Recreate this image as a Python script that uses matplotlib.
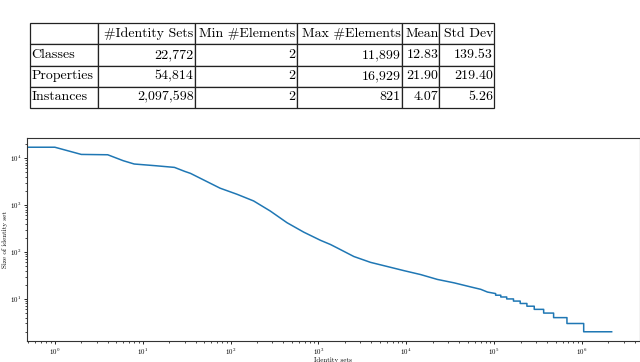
import numpy as np
import matplotlib
matplotlib.use("Agg")
import matplotlib.pyplot as plt

plt.rcParams['font.family'] = ['cmr10', 'DejaVu Serif']
plt.rcParams['mathtext.fontset'] = 'cm'
plt.rcParams['axes.formatter.use_mathtext'] = True

# table data
row_names = ['Classes', 'Properties', 'Instances']
col_names = ['', '#Identity Sets', 'Min #Elements', 'Max #Elements', 'Mean', 'Std Dev']
n_sets = ['22,772', '54,814', '2,097,598']
min_elems = ['2', '2', '2']
max_elems = ['11,899', '16,929', '821']
means = ['12.83', '21.90', '4.07']
stds = ['139.53', '219.40', '5.26']

# identity set sizes (rank -> size)
head_rank = [0, 1, 2, 4, 6, 8, 14, 23, 30, 35, 49, 76, 118, 183, 283, 439, 680,
             1054, 1371, 1633, 2529, 3918, 6070, 9400, 14560, 22600, 35000,
             54200, 70500, 84000, 104000]
head_size = [16929, 16929, 11899, 11700, 8750, 7440, 6840, 6300, 5190, 4700,
             3430, 2275, 1693, 1217, 743, 419, 264, 177, 144, 122, 80, 60, 49,
             40, 33, 26, 22, 18, 16, 14, 13]
# tail: size and last rank having that size
tail_size = [12, 11, 10, 9, 8, 7, 6, 5, 4, 3, 2]
tail_last_rank = [119000, 139000, 166000, 198000, 236000, 286000, 366000,
                  475000, 674000, 1045000, 2175184]

ranks = list(head_rank)
sizes = list(head_size)
prev = head_rank[-1]
for s, r in zip(tail_size, tail_last_rank):
    ranks += [prev + 1, r]
    sizes += [s, s]
    prev = r

fig = plt.figure(figsize=(6.4, 3.62), dpi=100)

#--- table
tax = fig.add_axes([30/640, 1-108/362, 464/640, 85/362])
tax.axis('off')
grid = [col_names]
for i in range(len(row_names)):
    grid.append([row_names[i], n_sets[i], min_elems[i], max_elems[i], means[i], stds[i]])
widths = [68, 97, 102, 105, 37, 55]
widths = [w / sum(widths) for w in widths]
tbl = tax.table(cellText=grid, colWidths=widths, cellLoc='right', bbox=[0, 0, 1, 1])
tbl.auto_set_font_size(False)
tbl.set_fontsize(10)
for (r, c), cell in tbl.get_celld().items():
    cell.set_linewidth(0.9)
    cell.set_edgecolor('#222222')
    cell.PAD = 0.015
    if c == 0:
        cell.get_text().set_horizontalalignment('left')
        cell.PAD = 0.02

#--- plot
ax = fig.add_axes([27/640, 1-341/362, 612.5/640, 203/362])
ax.plot(ranks, sizes, color='#1f77b4', lw=1.1)
ax.set_xscale('log')
ax.set_yscale('log')
ax.set_xlabel('Identity sets', fontsize=5, labelpad=0.5)
ax.set_ylabel('Size of identity set', fontsize=5, labelpad=1)
ax.tick_params(which='major', labelsize=5, length=2.5, width=0.6, pad=1.5)
ax.tick_params(which='minor', length=1.3, width=0.5)
for sp in ax.spines.values():
    sp.set_linewidth(0.8)
    sp.set_color('#333333')

fig.savefig('out.png', dpi=100)
